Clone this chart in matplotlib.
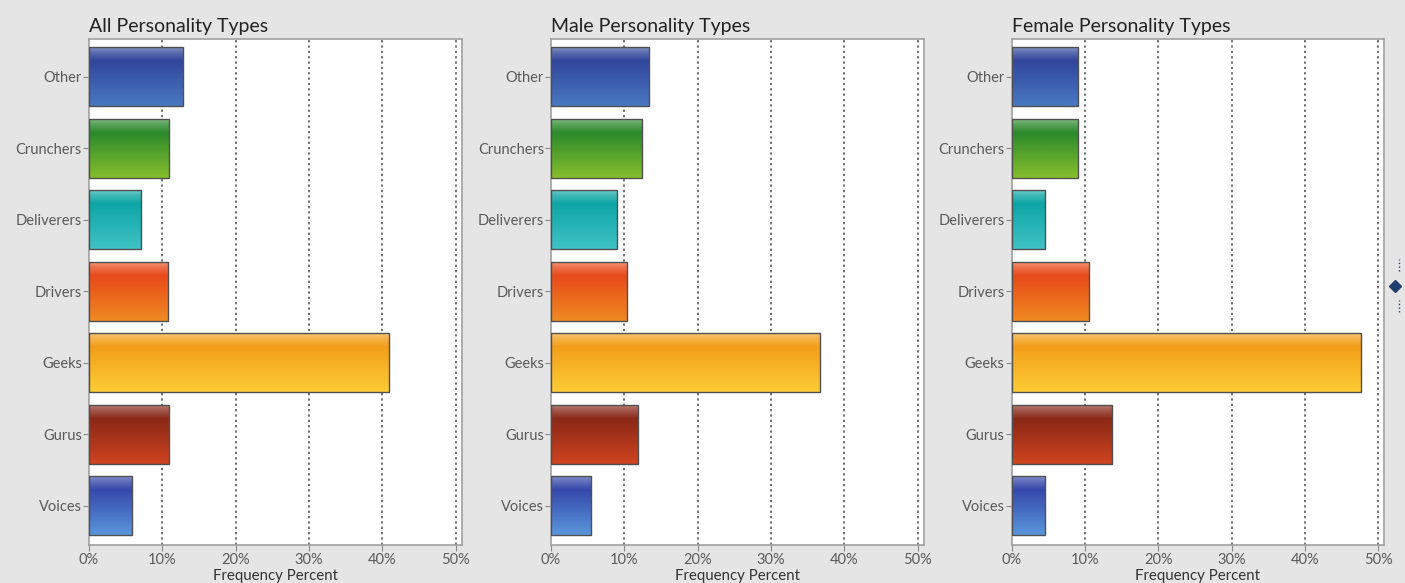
import numpy as np
import matplotlib.pyplot as plt
from matplotlib.colors import to_rgb
from matplotlib.lines import Line2D

categories = ['Other', 'Crunchers', 'Deliverers', 'Drivers', 'Geeks', 'Gurus', 'Voices']
all_pct = [12.8, 10.9, 7.1, 10.8, 40.9, 10.9, 5.9]
male_pct = [13.4, 12.4, 9.0, 10.3, 36.7, 11.8, 5.5]
female_pct = [9.1, 9.1, 4.5, 10.6, 47.6, 13.7, 4.5]
titles = ['All Personality Types', 'Male Personality Types', 'Female Personality Types']
xticks = [0, 10, 20, 30, 40, 50]

# (dark top tone, light bottom tone) per category
bar_colors = [('#31469c', '#4a78c2'),
              ('#2c8a2c', '#86be2c'),
              ('#0ea5a5', '#40c2c6'),
              ('#e84a1a', '#f08a22'),
              ('#f39e1a', '#fdcc36'),
              ('#8a2818', '#cf4420'),
              ('#3648aa', '#5a96dc')]

bg = '#e5e5e5'
txt = '#5a5a5a'
plt.rcParams['font.family'] = ['Lato', 'DejaVu Sans']

fig = plt.figure(figsize=(14.05, 5.83), dpi=100, facecolor=bg)
lefts = [0.0633, 0.3922, 0.7200]


def mix(c, w, a):
    c = np.array(to_rgb(c))
    return c * (1 - a) + np.array(to_rgb(w)) * a


def gloss(ax, bar, dark, light):
    x, y = bar.get_x(), bar.get_y()
    w, h = bar.get_width(), bar.get_height()
    n = 100
    t = np.linspace(0, 1, n)
    stops = [0.0, 0.1, 0.24, 1.0]
    cols = [mix(dark, 'white', 0.42), mix(dark, 'white', 0.22), np.array(to_rgb(dark)), np.array(to_rgb(light))]
    img = np.zeros((n, 1, 3))
    for k in range(3):
        img[:, 0, k] = np.interp(t, stops, [c[k] for c in cols])
    im = ax.imshow(img, extent=[x, x + w, y + h, y], aspect='auto', zorder=2,
                   interpolation='bilinear')
    im.set_clip_path(bar)


for i, (vals, title) in enumerate(zip([all_pct, male_pct, female_pct], titles)):
    ax = fig.add_axes([lefts[i], 0.0652, 0.2652, 0.868])
    ax.set_facecolor('white')
    pos = np.arange(len(categories))
    bars = ax.barh(pos, vals, height=0.83, color='none', edgecolor='#505050',
                   linewidth=1.0, zorder=3)
    for b, (dk, lt) in zip(bars, bar_colors):
        gloss(ax, b, dk, lt)
    ax.set_xlim(0, 50.8)
    ax.set_ylim(6.55, -0.53)
    ax.set_yticks(pos)
    ax.set_yticklabels(categories)
    ax.set_xticks(xticks)
    ax.set_xticklabels([f'{v}%' for v in xticks])
    for v in xticks[1:]:
        ax.axvline(v, color='#4a4a4a', linestyle=(0, (1.5, 2.0)), linewidth=1.1, zorder=1)
    ax.tick_params(axis='y', length=4, width=0.8, color='#888888', labelsize=10.5,
                   labelcolor=txt, pad=1)
    ax.tick_params(axis='x', length=4, width=0.8, color='#888888', labelsize=10.5,
                   labelcolor=txt, pad=2)
    for s in ax.spines.values():
        s.set_color('#a0a0a0')
        s.set_linewidth(1.2)
    ax.set_xlabel('Frequency Percent', fontsize=10.8, color='#333333', labelpad=1)
    ax.set_title(title, loc='left', fontsize=14, color='#222222', pad=5)

# splitter handle on the right edge
fig.add_artist(Line2D([0.9932], [0.51], marker='D', markersize=6, color='#1f3f6e',
                      transform=fig.transFigure))
fig.add_artist(Line2D([0.9955, 0.9955], [0.535, 0.555], linestyle=':', color='#1f3f6e',
                      linewidth=1, transform=fig.transFigure))
fig.add_artist(Line2D([0.9955, 0.9955], [0.465, 0.485], linestyle=':', color='#1f3f6e',
                      linewidth=1, transform=fig.transFigure))

fig.savefig('out.png', dpi=100, facecolor=bg)
